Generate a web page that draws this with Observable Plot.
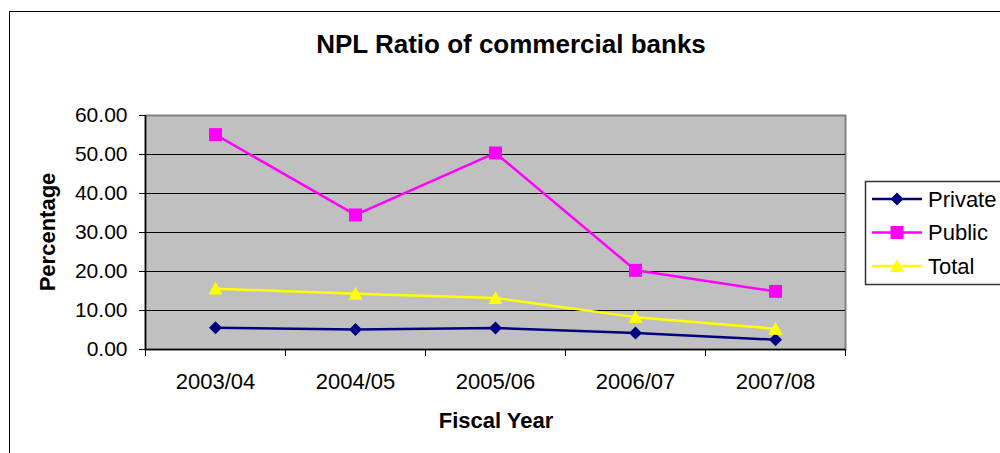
<!DOCTYPE html>
<html>
<head>
<meta charset="utf-8">
<script src="https://cdn.jsdelivr.net/npm/d3@7"></script>
<script src="https://cdn.jsdelivr.net/npm/@observablehq/plot@0.6"></script>
<style>
  html, body { margin: 0; padding: 0; background: white; overflow: hidden; }
  #chart { position: relative; width: 1000px; height: 453px; font-family: "Liberation Sans", Arial, sans-serif; }
  #chart > svg { position: absolute; left: 0; top: 0; }
</style>
</head>
<body>
<div id="chart"></div>
<script>
// ---- data ----
const categories = ["2003/04", "2004/05", "2005/06", "2006/07", "2007/08"];
const privateValues = [5.6, 5.1, 5.5, 4.2, 2.5];
const publicValues = [55.1, 34.5, 50.4, 20.3, 14.9];
const totalValues = [15.6, 14.3, 13.2, 8.3, 5.3];
const seriesNames = ["Private", "Public", "Total"];
const seriesColors = ["#000080", "#FF00FF", "#FFFF00"];
const yTicks = [0, 10, 20, 30, 40, 50, 60];
const titleText = "NPL Ratio of commercial banks";
const xTitle = "Fiscal Year";
const yTitle = "Percentage";

// ---- symbols ----
const diamond = {draw(ctx, size) { const r = Math.sqrt(size / Math.PI); ctx.moveTo(0, -r); ctx.lineTo(r, 0); ctx.lineTo(0, r); ctx.lineTo(-r, 0); ctx.closePath(); }};
const square = {draw(ctx, size) { const r = Math.sqrt(size / Math.PI); ctx.rect(-r, -r, 2 * r, 2 * r); }};
const triangle = {draw(ctx, size) { const r = Math.sqrt(size / Math.PI); ctx.moveTo(0, -r); ctx.lineTo(r, r * 0.85); ctx.lineTo(-r, r * 0.85); ctx.closePath(); }};
const seriesSymbols = [diamond, square, triangle];
const seriesR = [6.5, 6.5, 7];

const valuesBySeries = [privateValues, publicValues, totalValues];
const rows = seriesNames.flatMap((s, k) => categories.map((c, i) => ({series: s, k, i, category: c, value: valuesBySeries[k][i]})));
const idx = categories.map((c, i) => i);
const boundaries = [-0.5, ...idx.map(i => i + 0.5)];

const marks = [
  Plot.frame({fill: "#C0C0C0", stroke: "#808080", strokeWidth: 2}),
  Plot.ruleY(yTicks.filter(t => t > 0 && t < d3.max(yTicks)), {stroke: "black", strokeWidth: 1}),
  Plot.ruleY([0], {stroke: "black", strokeWidth: 1.5}),
  Plot.ruleX([boundaries[0]], {stroke: "black", strokeWidth: 1.5}),
  Plot.axisY({ticks: yTicks, tickFormat: d3.format(".2f"), tickSize: 6, tickPadding: 12, label: null, fontSize: 21}),
  Plot.axisX({ticks: idx, tickFormat: i => categories[i], tickSize: 0, tickPadding: 24, label: null, fontSize: 22}),
  Plot.axisX({ticks: boundaries, tickFormat: () => "", tickSize: 7, label: null})
];
seriesNames.forEach((s, k) => {
  const data = rows.filter(d => d.k === k);
  marks.push(Plot.line(data, {x: "i", y: "value", stroke: seriesColors[k], strokeWidth: 2.5}));
  marks.push(Plot.dot(data, {x: "i", y: "value", fill: seriesColors[k], stroke: "none", symbol: seriesSymbols[k], r: seriesR[k]}));
});

const plot = Plot.plot({
  width: 1000,
  height: 453,
  marginLeft: 145,
  marginRight: 155,
  marginTop: 115,
  marginBottom: 104,
  style: {fontFamily: "'Liberation Sans', Arial, sans-serif", fontSize: "21px", color: "black", background: "transparent", overflow: "visible"},
  x: {type: "linear", domain: [boundaries[0], boundaries[boundaries.length - 1]], axis: null},
  y: {domain: [0, d3.max(yTicks)], axis: null},
  marks
});

const chartEl = document.getElementById("chart");

// overlay: border, titles, legend
const W = 1000, H = 453;
const under = d3.create("svg").attr("width", W).attr("height", H);
under.append("rect").attr("x", 9.5).attr("y", 11.5).attr("width", 1100).attr("height", 600)
  .attr("fill", "white").attr("stroke", "black").attr("stroke-width", 1);
chartEl.append(under.node());
chartEl.append(plot);

const overlay = d3.create("svg").attr("width", W).attr("height", H)
  .style("font-family", "'Liberation Sans', Arial, sans-serif").style("pointer-events", "none");
overlay.append("text").attr("x", 511).attr("y", 44).attr("text-anchor", "middle").attr("dominant-baseline", "central")
  .attr("font-weight", "bold").attr("font-size", 26).text(titleText);
overlay.append("text").attr("x", 496).attr("y", 420).attr("text-anchor", "middle").attr("dominant-baseline", "central")
  .attr("font-weight", "bold").attr("font-size", 22).text(xTitle);
overlay.append("text").attr("transform", "translate(47,232) rotate(-90)").attr("text-anchor", "middle").attr("dominant-baseline", "central")
  .attr("font-weight", "bold").attr("font-size", 22).text(yTitle);

// legend
const lg = overlay.append("g");
lg.append("rect").attr("x", 865.5).attr("y", 181.5).attr("width", 200).attr("height", 103)
  .attr("fill", "white").attr("stroke", "#333").attr("stroke-width", 1.5);
const symPath = (sym, r) => d3.symbol(sym, Math.PI * r * r)();
seriesNames.forEach((s, k) => {
  const y = 199 + k * 33.5;
  const g = lg.append("g");
  g.append("line").attr("x1", 872).attr("x2", 922).attr("y1", y).attr("y2", y)
    .attr("stroke", seriesColors[k]).attr("stroke-width", 2.5);
  g.append("path").attr("d", symPath(seriesSymbols[k], seriesR[k])).attr("transform", `translate(897,${y})`)
    .attr("fill", seriesColors[k]);
  g.append("text").attr("x", 928).attr("y", y).attr("dominant-baseline", "central").attr("font-size", 22).text(s);
});
chartEl.append(overlay.node());
</script>
</body>
</html>
